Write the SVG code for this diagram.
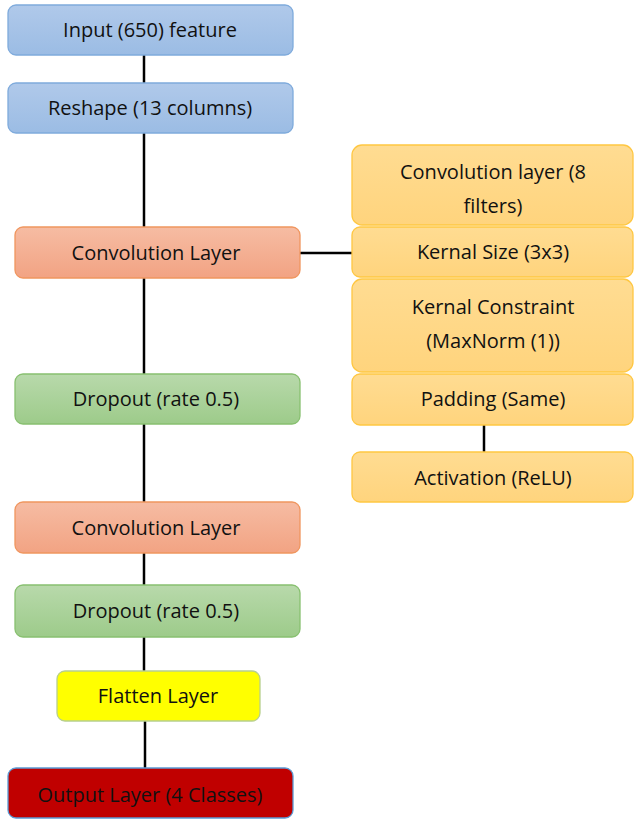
<svg xmlns="http://www.w3.org/2000/svg" width="634" height="819" viewBox="0 0 634 819">
<defs>
<linearGradient id="gBlue" x1="0" y1="0" x2="0" y2="1"><stop offset="0" stop-color="#b0c9ea"/><stop offset="1" stop-color="#9bbce4"/></linearGradient>
<linearGradient id="gOrange" x1="0" y1="0" x2="0" y2="1"><stop offset="0" stop-color="#f6bca3"/><stop offset="1" stop-color="#f2a383"/></linearGradient>
<linearGradient id="gGreen" x1="0" y1="0" x2="0" y2="1"><stop offset="0" stop-color="#b8d9ab"/><stop offset="1" stop-color="#9dcb8a"/></linearGradient>
<linearGradient id="gYel" x1="0" y1="0" x2="0" y2="1"><stop offset="0" stop-color="#ffdc92"/><stop offset="1" stop-color="#ffd47d"/></linearGradient>
</defs>
<style>
.t{font-family:"Open Sans","Liberation Sans",sans-serif;font-size:20px;fill:#111;text-anchor:middle}
.blue{fill:url(#gBlue);stroke:#7fabdc;stroke-width:1.3}
.orange{fill:url(#gOrange);stroke:#f0965f;stroke-width:1.3}
.green{fill:url(#gGreen);stroke:#88c070;stroke-width:1.3}
.yel{fill:url(#gYel);stroke:#ffc742;stroke-width:1.3}
.flat{fill:#ffff00;stroke:#b7cf8e;stroke-width:1.3}
.out{fill:#c00000;stroke:#5b9bd5;stroke-width:1.3}
.c{stroke:#000;stroke-width:2.5;fill:none}
</style>
<g id="connectors">
<line class="c" x1="144" y1="55" x2="144" y2="83"/>
<line class="c" x1="144" y1="133" x2="144" y2="227"/>
<line class="c" x1="144" y1="278" x2="144" y2="374"/>
<line class="c" x1="144" y1="424" x2="144" y2="502"/>
<line class="c" x1="144" y1="553" x2="144" y2="585"/>
<line class="c" x1="144" y1="637" x2="144" y2="671"/>
<line class="c" x1="145" y1="721" x2="145" y2="768"/>
<line class="c" x1="300" y1="253" x2="352" y2="253"/>
<line class="c" x1="484" y1="425" x2="484" y2="452"/>
</g>
<g id="input"><rect class="blue" x="8" y="5" width="285" height="50" rx="8"/><text class="t" x="150" y="37">Input (650) feature</text></g>
<g id="reshape"><rect class="blue" x="8" y="83" width="285" height="50" rx="8"/><text class="t" x="150" y="115">Reshape (13 columns)</text></g>
<g id="conv1"><rect class="orange" x="15" y="227" width="285" height="51" rx="8"/><text class="t" x="156" y="260">Convolution Layer</text></g>
<g id="dropout1"><rect class="green" x="15" y="374" width="285" height="50" rx="8"/><text class="t" x="156" y="406">Dropout (rate 0.5)</text></g>
<g id="conv2"><rect class="orange" x="15" y="502" width="285" height="51" rx="8"/><text class="t" x="156" y="535">Convolution Layer</text></g>
<g id="dropout2"><rect class="green" x="15" y="585" width="285" height="52" rx="8"/><text class="t" x="156" y="618">Dropout (rate 0.5)</text></g>
<g id="flatten"><rect class="flat" x="57" y="671" width="203" height="50" rx="8"/><text class="t" x="158" y="703">Flatten Layer</text></g>
<g id="output"><rect class="out" x="8" y="768" width="285" height="50" rx="8"/><text class="t" x="150" y="802">Output Layer (4 Classes)</text></g>
<g id="convfilters"><rect class="yel" x="352" y="145" width="281" height="80" rx="10"/><text class="t" x="493" y="179">Convolution layer (8</text><text class="t" x="493" y="213">filters)</text></g>
<g id="kernelsize"><rect class="yel" x="352" y="227" width="281" height="50" rx="8"/><text class="t" x="493" y="259">Kernal Size (3x3)</text></g>
<g id="constraint"><rect class="yel" x="352" y="279" width="281" height="93" rx="10"/><text class="t" x="493" y="314">Kernal Constraint</text><text class="t" x="493" y="348">(MaxNorm (1))</text></g>
<g id="padding"><rect class="yel" x="352" y="374" width="281" height="51" rx="8"/><text class="t" x="493" y="406">Padding (Same)</text></g>
<g id="activation"><rect class="yel" x="352" y="452" width="281" height="50" rx="8"/><text class="t" x="493" y="485">Activation (ReLU)</text></g>
</svg>
